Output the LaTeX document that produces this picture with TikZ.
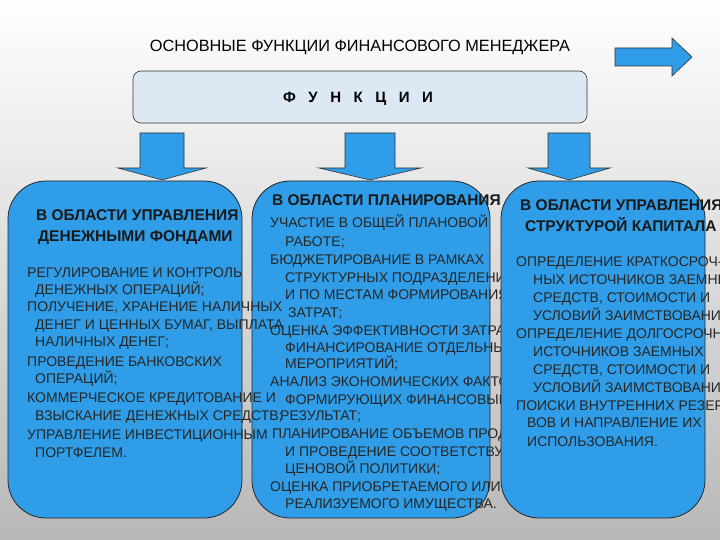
\documentclass[tikz,border=0pt]{standalone}
\usepackage{fontspec}
\setmainfont{Liberation Sans}
\begin{document}
\begin{tikzpicture}[x=1pt,y=-1pt,
  bx/.style={draw=black!85,fill=boxblue,line width=0.8pt,rounded corners=38pt},
  ar/.style={draw=black!80,fill=boxblue,line width=0.6pt},
  tx/.style={anchor=base west,inner sep=0pt,font=\fontsize{14}{15}\selectfont,text=black!85},
  hd/.style={anchor=base west,inner sep=0pt,font=\fontsize{15.5}{16}\selectfont\bfseries,text=black!90}]
\definecolor{boxblue}{HTML}{2F9DE8}
\definecolor{lightb}{HTML}{DCE8F4}
\useasboundingbox (0,0) rectangle (720,540);
\clip (0,0) rectangle (720,540);
\shade[top color=white,bottom color=black!28] (0,0) rectangle (720,540);
\node[anchor=base,inner sep=0pt,font=\fontsize{16.3}{17}\selectfont] (title) at (360,52) {ОСНОВНЫЕ ФУНКЦИИ ФИНАНСОВОГО МЕНЕДЖЕРА};
% top right arrow
\draw[ar] (615,48) -- (672,48) -- (672,38) -- (692,57) -- (672,76) -- (672,66) -- (615,66) -- cycle;
% functions box
\draw[draw=black!80,fill=lightb,rounded corners=8pt,line width=0.6pt] (133,71) rectangle (587,123);
\node[anchor=base,inner sep=0pt,font=\fontsize{15}{16}\selectfont\bfseries] (fn) at (358,103) {Ф\ \ \ У\ \ \ Н\ \ \ К\ \ \ Ц\ \ \ И\ \ \ И};
% block arrows
\foreach \c/\w/\h in {162/22/44, 370/25/51, 569/21/41}{
  \draw[ar] (\c-\w,133) -- (\c+\w,133) -- (\c+\w,168) -- (\c+\h,168) -- (\c,180) -- (\c-\h,168) -- (\c-\w,168) -- cycle;}
% boxes
\draw[bx] (8,181) rectangle (242,518);
\draw[bx] (252,181) rectangle (490,518);
% box 1 text
\node[hd] (h1a) at (36,221) {В ОБЛАСТИ УПРАВЛЕНИЯ};
\node[hd] (h1b) at (38,241) {ДЕНЕЖНЫМИ ФОНДАМИ};
\node[tx] at (27,277) {РЕГУЛИРОВАНИЕ И КОНТРОЛЬ};
\node[tx] at (35,294) {ДЕНЕЖНЫХ ОПЕРАЦИЙ;};
\node[tx] at (27,311) {ПОЛУЧЕНИЕ, ХРАНЕНИЕ НАЛИЧНЫХ};
\node[tx] at (35,329) {ДЕНЕГ И ЦЕННЫХ БУМАГ, ВЫПЛАТА};
\node[tx] at (35,346) {НАЛИЧНЫХ ДЕНЕГ;};
\node[tx] at (27,366) {ПРОВЕДЕНИЕ БАНКОВСКИХ};
\node[tx] at (35,383) {ОПЕРАЦИЙ;};
\node[tx] at (27,402) {КОММЕРЧЕСКОЕ КРЕДИТОВАНИЕ И};
\node[tx] at (35,420) {ВЗЫСКАНИЕ ДЕНЕЖНЫХ СРЕДСТВ;};
\node[tx] at (27,439) {УПРАВЛЕНИЕ ИНВЕСТИЦИОННЫМ};
\node[tx] at (35,457) {ПОРТФЕЛЕМ.};
% box 2 text
\node[hd] (h2) at (272,206) {В ОБЛАСТИ ПЛАНИРОВАНИЯ};
\node[tx] at (270,228) {УЧАСТИЕ В ОБЩЕЙ ПЛАНОВОЙ};
\node[tx] at (285,246) {РАБОТЕ;};
\node[tx] at (270,264) {БЮДЖЕТИРОВАНИЕ В РАМКАХ};
\node[tx] at (285,282) {СТРУКТУРНЫХ ПОДРАЗДЕЛЕНИЙ};
\node[tx] at (285,299) {И ПО МЕСТАМ ФОРМИРОВАНИЯ};
\node[tx] at (288,317) {ЗАТРАТ;};
\node[tx] at (270,335) {ОЦЕНКА ЭФФЕКТИВНОСТИ ЗАТРАТ,};
\node[tx] at (285,352) {ФИНАНСИРОВАНИЕ ОТДЕЛЬНЫХ};
\node[tx] at (285,368) {МЕРОПРИЯТИЙ;};
\node[tx] at (270,386) {АНАЛИЗ ЭКОНОМИЧЕСКИХ ФАКТОРОВ,};
\node[tx] at (285,404) {ФОРМИРУЮЩИХ ФИНАНСОВЫЙ};
\node[tx] at (280,420) {РЕЗУЛЬТАТ;};
\node[tx] at (272,438) {ПЛАНИРОВАНИЕ ОБЪЕМОВ ПРОДАЖ};
\node[tx] at (285,456) {И ПРОВЕДЕНИЕ СООТВЕТСТВУЮЩЕЙ};
\node[tx] at (285,473) {ЦЕНОВОЙ ПОЛИТИКИ;};
\node[tx] at (270,491) {ОЦЕНКА ПРИОБРЕТАЕМОГО ИЛИ};
\node[tx] at (285,508) {РЕАЛИЗУЕМОГО ИМУЩЕСТВА.};
% box 3
\draw[bx] (501,181) rectangle (705,518);
\node[hd] (h3a) at (520,211) {В ОБЛАСТИ УПРАВЛЕНИЯ};
\node[hd] (h3b) at (525,231) {СТРУКТУРОЙ КАПИТАЛА};
\node[tx] at (516,266) {ОПРЕДЕЛЕНИЕ КРАТКОСРОЧ-};
\node[tx] at (533,284) {НЫХ ИСТОЧНИКОВ ЗАЕМНЫХ};
\node[tx] at (533,302) {СРЕДСТВ, СТОИМОСТИ И};
\node[tx] at (533,320) {УСЛОВИЙ ЗАИМСТВОВАНИЯ;};
\node[tx] at (516,338) {ОПРЕДЕЛЕНИЕ ДОЛГОСРОЧНЫХ};
\node[tx] at (533,356) {ИСТОЧНИКОВ ЗАЕМНЫХ};
\node[tx] at (533,374) {СРЕДСТВ, СТОИМОСТИ И};
\node[tx] at (533,392) {УСЛОВИЙ ЗАИМСТВОВАНИЯ;};
\node[tx] at (516,410) {ПОИСКИ ВНУТРЕННИХ РЕЗЕР-};
\node[tx] at (527,427) {ВОВ И НАПРАВЛЕНИЕ ИХ};
\node[tx] at (527,446) {ИСПОЛЬЗОВАНИЯ.};
\end{tikzpicture}
\end{document}
